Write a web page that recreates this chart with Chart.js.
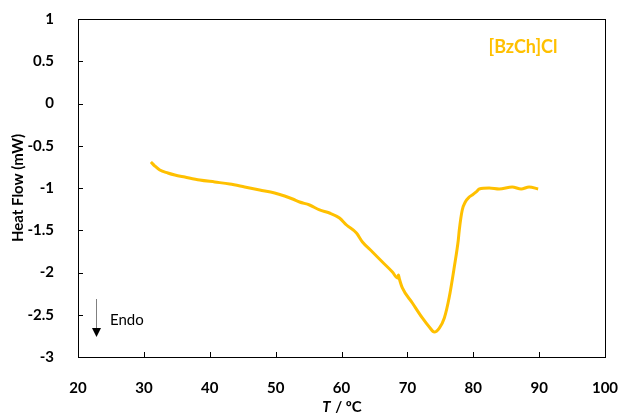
<!DOCTYPE html>
<html>
<head>
<meta charset="utf-8">
<script src="https://cdn.jsdelivr.net/npm/chart.js@4.4.0/dist/chart.umd.min.js"></script>
<style>
  html, body { margin: 0; padding: 0; background: #fff; }
  #wrap { width: 620px; height: 419px; position: relative; }
</style>
</head>
<body>
<div id="wrap"><canvas id="dsc"></canvas></div>
<script>
// DSC trace of [BzCh]Cl
const temps = [31.06, 31.67, 32.42, 33.64, 34.70, 36.21, 38.48, 40.76, 43.03, 45.30,
  47.58, 49.85, 51.36, 52.58, 53.64, 55.15, 56.67, 58.18, 59.70, 60.76,
  62.27, 63.18, 64.70, 66.21, 67.73, 68.48, 68.64, 68.79, 69.24, 70.76,
  72.27, 73.33, 74.09, 74.85, 75.61, 76.36, 77.12, 77.73, 77.88, 78.33,
  78.79, 79.39, 79.85, 80.45, 80.91, 82.42, 83.94, 85.91, 87.27, 88.48, 89.85];
const heatFlow = [-0.692, -0.74, -0.787, -0.822, -0.846, -0.870, -0.905, -0.929, -0.953, -0.988,
  -1.024, -1.059, -1.095, -1.130, -1.166, -1.201, -1.260, -1.296, -1.355, -1.438,
  -1.533, -1.639, -1.757, -1.876, -1.994, -2.065, -2.03, -2.077, -2.183, -2.361,
  -2.538, -2.645, -2.704, -2.657, -2.538, -2.290, -1.935, -1.615, -1.497, -1.260,
  -1.166, -1.107, -1.083, -1.047, -1.012, -1.000, -1.012, -0.988, -1.012, -0.988, -1.012];
const xTicks = [20, 30, 40, 50, 60, 70, 80, 90, 100];
const yTicks = [1, 0.5, 0, -0.5, -1, -1.5, -2, -2.5, -3];
const seriesLabel = '[BzCh]Cl';
const seriesColor = '#FFC000';

const FONT = 'Lato, "Open Sans", sans-serif';

// frame, inward ticks, titles and the Endo note
const decorPlugin = {
  id: 'decor',
  afterDraw(chart) {
    const c = chart.ctx;
    const a = chart.chartArea;
    const xs = chart.scales.x, ys = chart.scales.y;
    c.save();
    c.strokeStyle = '#000';
    c.lineWidth = 1;
    // box
    c.strokeRect(Math.round(a.left) + 0.5, Math.round(a.top) + 0.5,
      Math.round(a.right - a.left), Math.round(a.bottom - a.top));
    // inward ticks
    c.beginPath();
    xTicks.forEach(v => {
      const px = Math.round(xs.getPixelForValue(v)) + 0.5;
      c.moveTo(px, a.bottom); c.lineTo(px, a.bottom - 5);
    });
    yTicks.forEach(v => {
      const py = Math.round(ys.getPixelForValue(v)) + 0.5;
      c.moveTo(a.left, py); c.lineTo(a.left + 5, py);
    });
    c.stroke();

    // x title: italic T + bold " / ºC"
    c.fillStyle = '#000';
    c.textBaseline = 'middle';
    const cx = (a.left + a.right) / 2;
    const italic = 'bold italic 15px ' + FONT;
    const bold = 'bold 15px ' + FONT;
    c.font = italic; const w1 = c.measureText('T').width;
    c.font = bold; const w2 = c.measureText(' / ºC').width;
    let x0 = cx - (w1 + w2) / 2;
    c.textAlign = 'left';
    c.font = italic; c.fillText('T', x0, 407);
    c.font = bold; c.fillText(' / ºC', x0 + w1 + 1, 407);

    // y title
    c.save();
    c.translate(18, (a.top + a.bottom) / 2);
    c.rotate(-Math.PI / 2);
    c.textAlign = 'center';
    c.font = 'bold 15px ' + FONT;
    c.fillText('Heat Flow (mW)', 0, 0);
    c.restore();

    // series label
    c.fillStyle = seriesColor;
    c.font = 'bold 18px ' + FONT;
    c.textAlign = 'center';
    c.fillText(seriesLabel, 523, 47);

    // Endo arrow
    c.strokeStyle = '#808080';
    c.lineWidth = 1;
    c.beginPath();
    c.moveTo(96.5, 299); c.lineTo(96.5, 330);
    c.stroke();
    c.fillStyle = '#000';
    c.beginPath();
    c.moveTo(92, 328); c.lineTo(101, 328); c.lineTo(96.5, 337); c.closePath();
    c.fill();
    c.font = '15px ' + FONT;
    c.textAlign = 'left';
    c.fillText('Endo', 110, 320);
    c.restore();
  }
};

new Chart(document.getElementById('dsc'), {
  type: 'line',
  data: {
    datasets: [{
      label: seriesLabel,
      data: temps.map((t, i) => ({ x: t, y: heatFlow[i] })),
      borderColor: seriesColor,
      borderWidth: 3,
      pointRadius: 0,
      fill: false,
      cubicInterpolationMode: 'monotone'
    }]
  },
  options: {
    responsive: true,
    maintainAspectRatio: false,
    animation: false,
    layout: { padding: { top: 19, right: 15, left: 0, bottom: 0 } },
    plugins: { legend: { display: false }, tooltip: { enabled: false } },
    scales: {
      x: {
        type: 'linear', min: 20, max: 100,
        afterBuildTicks: s => { s.ticks = xTicks.map(v => ({ value: v })); },
        afterFit: s => { s.height = 62; s.paddingLeft = 0; s.paddingRight = 0; },
        grid: { display: false },
        border: { display: false },
        ticks: { padding: 14, color: '#000', font: { family: FONT, size: 15, weight: 'bold' },
          callback: v => String(v) }
      },
      y: {
        min: -3, max: 1,
        afterBuildTicks: s => { s.ticks = yTicks.map(v => ({ value: v })); },
        afterFit: s => { s.width = 78; s.paddingTop = 0; s.paddingBottom = 0; },
        grid: { display: false },
        border: { display: false },
        ticks: { padding: 16, color: '#000', font: { family: FONT, size: 15, weight: 'bold' },
          callback: v => String(v) }
      }
    }
  },
  plugins: [decorPlugin]
});
</script>
</body>
</html>
